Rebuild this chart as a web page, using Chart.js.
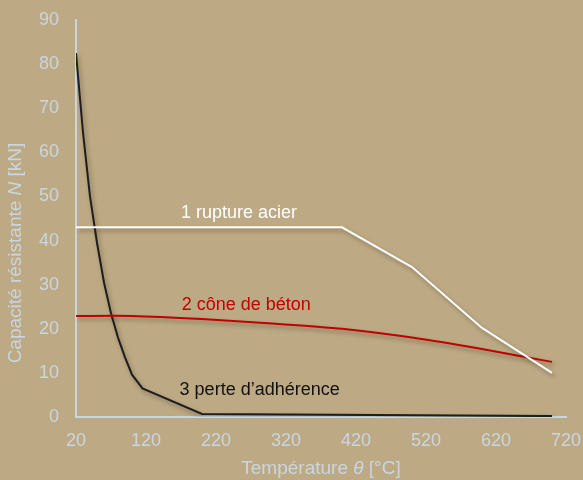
<!DOCTYPE html>
<html>
<head>
<meta charset="utf-8">
<script src="https://cdn.jsdelivr.net/npm/chart.js@4.4.0/dist/chart.umd.min.js"></script>
<style>
  html, body { margin: 0; padding: 0; background: #bdaa85; }
  #wrap { width: 583px; height: 480px; position: relative; }
</style>
</head>
<body>
<div id="wrap"><canvas id="capaciteChart"></canvas></div>
<script>
// Données
const xTicks = [20, 120, 220, 320, 420, 520, 620, 720];
const yTicks = [0, 10, 20, 30, 40, 50, 60, 70, 80, 90];

// 1 rupture acier
const acierTemp = [20, 400, 500, 600, 700];
const acierN = [43, 43, 34, 20.2, 10];

// 2 cône de béton
const betonTemp = [20, 100, 200, 300, 400, 500, 600, 700];
const betonN = [22.9, 22.9, 22.2, 21.2, 20, 18, 15.4, 12.5];

// 3 perte d'adhérence
const adhTemp = [20, 30, 40, 50, 60, 70, 80, 90, 100, 115, 200, 700];
const adhN = [82.5, 64.5, 50, 39.5, 30.5, 23.5, 18, 13.5, 9.6, 6.5, 0.7, 0.2];

const labelNames = ['1 rupture acier', '2 cône de béton', '3 perte d\u2019adhérence'];
const labelAnchors = [[170, 46.3], [171, 25.4], [168, 6.1]];

// Couleurs
const axisColor = '#c8d6e0';
const acierColor = '#ffffff';
const betonColor = '#c00000';
const adhColor = '#1e1e1e';
const labelColors = [acierColor, betonColor, '#111111'];

const fontFamily = '"Liberation Sans", Arial, sans-serif';

function toPoints(xs, ys) {
    return xs.map((x, i) => ({ x: x, y: ys[i] }));
}

// Ombre portée sous les courbes
const shadowPlugin = {
    id: 'lineShadow',
    beforeDatasetsDraw: (chart) => {
        const ctx = chart.ctx;
        ctx.save();
        ctx.shadowColor = 'rgba(60, 45, 20, 0.45)';
        ctx.shadowBlur = 4;
        ctx.shadowOffsetX = 2;
        ctx.shadowOffsetY = 3;
    },
    afterDatasetsDraw: (chart) => {
        chart.ctx.restore();
    }
};

// Étiquettes des courbes et titres des axes
const textPlugin = {
    id: 'chartTexts',
    afterDraw: (chart) => {
        const ctx = chart.ctx;
        const xs = chart.scales.x;
        const ys = chart.scales.y;

        ctx.save();
        ctx.textBaseline = 'middle';
        ctx.textAlign = 'left';
        ctx.font = '18px ' + fontFamily;
        labelNames.forEach((txt, i) => {
            ctx.fillStyle = labelColors[i];
            ctx.fillText(txt, xs.getPixelForValue(labelAnchors[i][0]), ys.getPixelForValue(labelAnchors[i][1]));
        });

        // titre axe x
        const normal = '19px ' + fontFamily;
        const italic = 'italic 19px ' + fontFamily;
        const xParts = [['Température ', normal], ['\u03b8', italic], [' [°C]', normal]];
        ctx.fillStyle = axisColor;
        let total = 0;
        xParts.forEach(p => { ctx.font = p[1]; total += ctx.measureText(p[0]).width; });
        let cx = (chart.chartArea.left + chart.chartArea.right) / 2 - total / 2;
        xParts.forEach(p => {
            ctx.font = p[1];
            ctx.fillText(p[0], cx, 469);
            cx += ctx.measureText(p[0]).width;
        });

        // titre axe y
        const yParts = [['Capacité résistante ', normal], ['N', italic], [' [kN]', normal]];
        total = 0;
        yParts.forEach(p => { ctx.font = p[1]; total += ctx.measureText(p[0]).width; });
        ctx.translate(16, 253);
        ctx.rotate(-Math.PI / 2);
        let cy = -total / 2;
        yParts.forEach(p => {
            ctx.font = p[1];
            ctx.fillText(p[0], cy, 0);
            cy += ctx.measureText(p[0]).width;
        });
        ctx.restore();
    }
};

const ctx = document.getElementById('capaciteChart');
new Chart(ctx.getContext('2d'), {
    type: 'line',
    data: {
        datasets: [{
            label: labelNames[0],
            data: toPoints(acierTemp, acierN),
            borderColor: acierColor,
            borderWidth: 2,
            pointRadius: 0,
            tension: 0
        }, {
            label: labelNames[1],
            data: toPoints(betonTemp, betonN),
            borderColor: betonColor,
            borderWidth: 2,
            pointRadius: 0,
            tension: 0.2
        }, {
            label: labelNames[2],
            data: toPoints(adhTemp, adhN),
            borderColor: adhColor,
            borderWidth: 2,
            pointRadius: 0,
            tension: 0
        }]
    },
    options: {
        responsive: true,
        maintainAspectRatio: false,
        animation: false,
        layout: { padding: { top: 20, right: 17, left: 0, bottom: 0 } },
        plugins: {
            legend: { display: false },
            tooltip: { enabled: false }
        },
        scales: {
            x: {
                type: 'linear',
                min: 20,
                max: 720,
                afterBuildTicks: (scale) => { scale.ticks = xTicks.map(v => ({ value: v })); },
                afterFit: (scale) => {
                    scale.height = 63;
                    scale.paddingLeft = 0;
                    scale.paddingRight = 0;
                },
                grid: { display: false, drawTicks: false },
                border: { display: true, color: axisColor, width: 2 },
                ticks: {
                    color: axisColor,
                    font: { family: fontFamily, size: 18 },
                    padding: 13,
                    maxRotation: 0,
                    autoSkip: false
                }
            },
            y: {
                min: 0,
                max: 90,
                afterBuildTicks: (scale) => { scale.ticks = yTicks.map(v => ({ value: v })); },
                afterFit: (scale) => {
                    scale.width = 76;
                    scale.paddingTop = 0;
                    scale.paddingBottom = 0;
                },
                grid: { display: false, drawTicks: false },
                border: { display: true, color: axisColor, width: 2 },
                ticks: {
                    color: axisColor,
                    font: { family: fontFamily, size: 18 },
                    padding: 17,
                    autoSkip: false
                }
            }
        }
    },
    plugins: [shadowPlugin, textPlugin]
});
</script>
</body>
</html>
